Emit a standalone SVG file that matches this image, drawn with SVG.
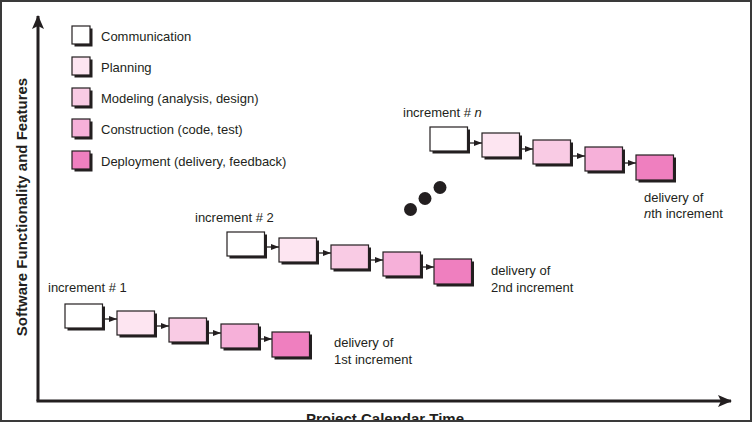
<svg xmlns="http://www.w3.org/2000/svg" width="752" height="422" viewBox="0 0 752 422">
<defs>
<style>
.t{font-family:"Liberation Sans",Arial,sans-serif;font-size:13px;fill:#231f20}
.ax{font-family:"Liberation Sans",Arial,sans-serif;font-size:15px;font-weight:bold;fill:#231f20}
.sh{fill:#231f20}
.bx{stroke:#231f20;stroke-width:1.2}
.c0{fill:#ffffff}.c1{fill:#fde5f1}.c2{fill:#f9cbe4}.c3{fill:#f6b0d9}.c4{fill:#ef7fbf}
.cn{stroke:#231f20;stroke-width:1.3;fill:none}
.axis{stroke:#231f20;stroke-width:3;fill:none}
</style>
<marker id="ah" viewBox="0 0 8 6" refX="8" refY="3" markerWidth="8" markerHeight="6" markerUnits="userSpaceOnUse" orient="auto">
<path d="M0,0 L8,3 L0,6 Z" fill="#231f20"/>
</marker>
<marker id="axh" viewBox="0 0 14 12" refX="13" refY="6" markerWidth="14" markerHeight="12" markerUnits="userSpaceOnUse" orient="auto">
<path d="M0,0 L14,6 L0,12 L3,6 Z" fill="#231f20"/>
</marker>
</defs>
<rect x="0" y="0" width="752" height="422" fill="#ffffff"/>

<g id="axes">
<line class="axis" x1="38" y1="401" x2="38" y2="16" marker-end="url(#axh)"/>
<line class="axis" x1="36.5" y1="401" x2="731" y2="401" marker-end="url(#axh)"/>
<text class="ax" x="385" y="424" text-anchor="middle">Project Calendar Time</text>
<text class="ax" transform="translate(27,207) rotate(-90)" text-anchor="middle">Software Functionality and Features</text>
</g>

<g id="legend">
<g id="leg-communication"><rect class="sh" x="74.5" y="28.5" width="18" height="18"/><rect class="bx c0" x="72" y="26" width="18" height="18"/><text class="t" x="101" y="41">Communication</text></g>
<g id="leg-planning"><rect class="sh" x="74.5" y="59.5" width="18" height="18"/><rect class="bx c1" x="72" y="57" width="18" height="18"/><text class="t" x="101" y="72">Planning</text></g>
<g id="leg-modeling"><rect class="sh" x="74.5" y="90.5" width="18" height="18"/><rect class="bx c2" x="72" y="88" width="18" height="18"/><text class="t" x="101" y="103">Modeling (analysis, design)</text></g>
<g id="leg-construction"><rect class="sh" x="74.5" y="121.5" width="18" height="18"/><rect class="bx c3" x="72" y="119" width="18" height="18"/><text class="t" x="101" y="134">Construction (code, test)</text></g>
<g id="leg-deployment"><rect class="sh" x="74.5" y="153.5" width="18" height="18"/><rect class="bx c4" x="72" y="151" width="18" height="18"/><text class="t" x="101" y="166">Deployment (delivery, feedback)</text></g>
</g>

<g id="connectors">
<line class="cn" x1="105" y1="319" x2="117" y2="319" marker-end="url(#ah)"/>
<line class="cn" x1="157" y1="326" x2="169" y2="326" marker-end="url(#ah)"/>
<line class="cn" x1="209" y1="333" x2="221" y2="333" marker-end="url(#ah)"/>
<line class="cn" x1="261" y1="339" x2="272" y2="339" marker-end="url(#ah)"/>

<line class="cn" x1="267" y1="247" x2="279" y2="247" marker-end="url(#ah)"/>
<line class="cn" x1="319" y1="253" x2="331" y2="253" marker-end="url(#ah)"/>
<line class="cn" x1="371" y1="260" x2="383" y2="260" marker-end="url(#ah)"/>
<line class="cn" x1="423" y1="267" x2="434" y2="267" marker-end="url(#ah)"/>

<line class="cn" x1="470" y1="143" x2="482" y2="143" marker-end="url(#ah)"/>
<line class="cn" x1="522" y1="149" x2="533" y2="149" marker-end="url(#ah)"/>
<line class="cn" x1="573" y1="156" x2="585" y2="156" marker-end="url(#ah)"/>
<line class="cn" x1="625" y1="163" x2="636" y2="163" marker-end="url(#ah)"/>
</g>

<g id="increment-1">
<text class="t" x="48" y="292">increment # 1</text>
<g id="i1-communication"><rect class="sh" x="67.5" y="306.5" width="37.5" height="24"/><rect class="bx c0" x="65" y="304" width="37.5" height="24"/></g>
<g id="i1-planning"><rect class="sh" x="119.5" y="313.5" width="37.5" height="24"/><rect class="bx c1" x="117" y="311" width="37.5" height="24"/></g>
<g id="i1-modeling"><rect class="sh" x="171.5" y="320.5" width="37.5" height="24"/><rect class="bx c2" x="169" y="318" width="37.5" height="24"/></g>
<g id="i1-construction"><rect class="sh" x="223.5" y="326.5" width="37.5" height="24"/><rect class="bx c3" x="221" y="324" width="37.5" height="24"/></g>
<g id="i1-deployment"><rect class="sh" x="274.5" y="334.5" width="37.5" height="25"/><rect class="bx c4" x="272" y="332" width="37.5" height="25"/></g>
<text class="t" x="334" y="347">delivery of</text>
<text class="t" x="334" y="364">1st increment</text>
</g>

<g id="increment-2">
<text class="t" x="195" y="222">increment # 2</text>
<g id="i2-communication"><rect class="sh" x="229.5" y="234.5" width="37.5" height="24"/><rect class="bx c0" x="227" y="232" width="37.5" height="24"/></g>
<g id="i2-planning"><rect class="sh" x="281.5" y="240.5" width="37.5" height="24"/><rect class="bx c1" x="279" y="238" width="37.5" height="24"/></g>
<g id="i2-modeling"><rect class="sh" x="333.5" y="247.5" width="37.5" height="24"/><rect class="bx c2" x="331" y="245" width="37.5" height="24"/></g>
<g id="i2-construction"><rect class="sh" x="385.5" y="254.5" width="37.5" height="24"/><rect class="bx c3" x="383" y="252" width="37.5" height="24"/></g>
<g id="i2-deployment"><rect class="sh" x="436.5" y="261.5" width="37.5" height="25"/><rect class="bx c4" x="434" y="259" width="37.5" height="25"/></g>
<text class="t" x="491" y="275">delivery of</text>
<text class="t" x="491" y="292">2nd increment</text>
</g>

<g id="ellipsis">
<circle cx="410.5" cy="209.5" r="6.5" fill="#231f20"/>
<circle cx="425" cy="198.5" r="6.5" fill="#231f20"/>
<circle cx="440" cy="187.5" r="6.5" fill="#231f20"/>
</g>

<g id="increment-n">
<text class="t" x="403" y="117">increment # <tspan font-style="italic">n</tspan></text>
<g id="in-communication"><rect class="sh" x="432.5" y="129.5" width="37.5" height="24"/><rect class="bx c0" x="430" y="127" width="37.5" height="24"/></g>
<g id="in-planning"><rect class="sh" x="484.5" y="135.5" width="37.5" height="24"/><rect class="bx c1" x="482" y="133" width="37.5" height="24"/></g>
<g id="in-modeling"><rect class="sh" x="535.5" y="142.5" width="37.5" height="24"/><rect class="bx c2" x="533" y="140" width="37.5" height="24"/></g>
<g id="in-construction"><rect class="sh" x="587.5" y="149.5" width="37.5" height="24"/><rect class="bx c3" x="585" y="147" width="37.5" height="24"/></g>
<g id="in-deployment"><rect class="sh" x="638.5" y="157.5" width="37.5" height="25"/><rect class="bx c4" x="636" y="155" width="37.5" height="25"/></g>
<text class="t" x="644" y="202">delivery of</text>
<text class="t" x="644" y="218"><tspan font-style="italic">n</tspan>th increment</text>
</g>

<rect x="1" y="1" width="750" height="420" fill="none" stroke="#3a3a3a" stroke-width="2"/>
</svg>
